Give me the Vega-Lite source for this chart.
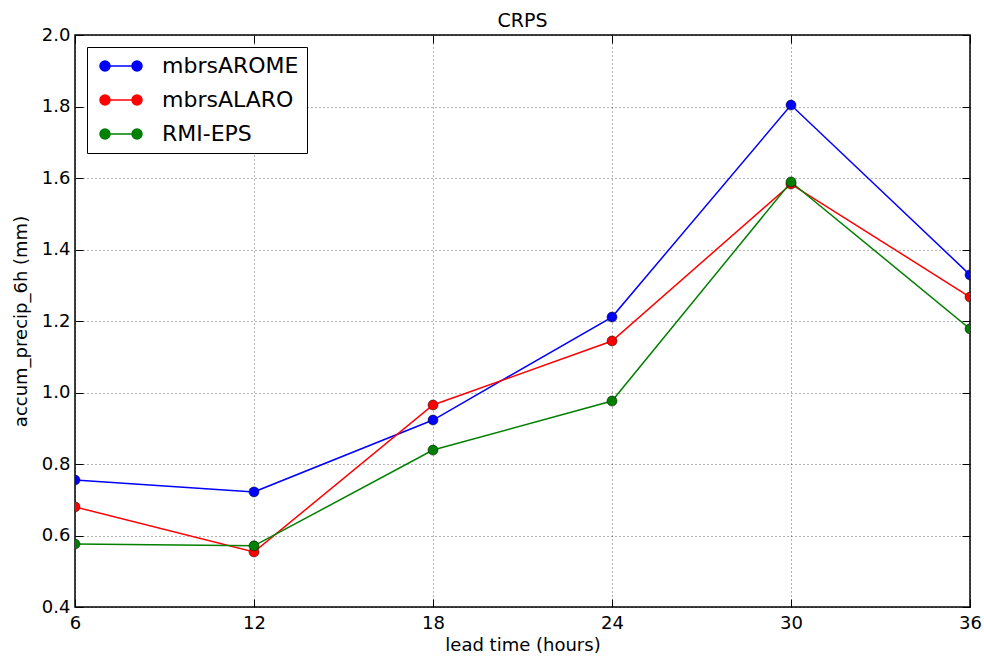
{
  "$schema": "https://vega.github.io/schema/vega-lite/v6.json",
  "autosize": {"type": "none"},
  "width": 895,
  "height": 572,
  "padding": {"left": 75, "top": 35, "right": 14, "bottom": 50},
  "background": "white",
  "title": {"text": "CRPS", "fontSize": 19, "fontWeight": "normal", "font": "DejaVu Sans", "color": "black", "offset": 6, "dy": 11},
  "config": {
    "font": "DejaVu Sans",
    "view": {"stroke": "black", "strokeWidth": 1.5},
    "axis": {"labelFont": "DejaVu Sans", "titleFont": "DejaVu Sans", "labelColor": "black", "titleColor": "black", "tickColor": "black", "domainColor": "black", "labelFontSize": 18, "titleFontSize": 18, "titleFontWeight": "normal", "tickSize": -8, "tickWidth": 1, "labelFlush": false}
  },
  "data": {"values": [
    {"lead": 6, "model": "mbrsAROME", "crps": 0.755},
    {"lead": 12, "model": "mbrsAROME", "crps": 0.722},
    {"lead": 18, "model": "mbrsAROME", "crps": 0.923},
    {"lead": 24, "model": "mbrsAROME", "crps": 1.211},
    {"lead": 30, "model": "mbrsAROME", "crps": 1.804},
    {"lead": 36, "model": "mbrsAROME", "crps": 1.329},
    {"lead": 6, "model": "mbrsALARO", "crps": 0.680},
    {"lead": 12, "model": "mbrsALARO", "crps": 0.554},
    {"lead": 18, "model": "mbrsALARO", "crps": 0.965},
    {"lead": 24, "model": "mbrsALARO", "crps": 1.144},
    {"lead": 30, "model": "mbrsALARO", "crps": 1.583},
    {"lead": 36, "model": "mbrsALARO", "crps": 1.267},
    {"lead": 6, "model": "RMI-EPS", "crps": 0.576},
    {"lead": 12, "model": "RMI-EPS", "crps": 0.571},
    {"lead": 18, "model": "RMI-EPS", "crps": 0.839},
    {"lead": 24, "model": "RMI-EPS", "crps": 0.976},
    {"lead": 30, "model": "RMI-EPS", "crps": 1.589},
    {"lead": 36, "model": "RMI-EPS", "crps": 1.178}
  ]},
  "layer": [
    {
      "mark": {"type": "line", "strokeWidth": 1.5, "clip": true},
      "encoding": {
        "x": {"field": "lead", "type": "quantitative", "scale": {"domain": [6, 36], "nice": false, "zero": false},
          "axis": {"values": [6, 12, 18, 24, 30, 36], "title": "lead time (hours)", "grid": true, "gridColor": "black", "gridDash": [1, 3], "gridOpacity": 0.6, "labelPadding": 15, "titlePadding": 4, "domain": false}},
        "y": {"field": "crps", "type": "quantitative", "scale": {"domain": [0.4, 2.0], "nice": false, "zero": false},
          "axis": {"values": [0.4, 0.6, 0.8, 1.0, 1.2, 1.4, 1.6, 1.8, 2.0], "format": ".1f", "title": "accum_precip_6h (mm)", "grid": true, "gridColor": "black", "gridDash": [1, 3], "gridOpacity": 0.6, "labelPadding": 13, "titlePadding": 11, "domain": false}},
        "color": {"field": "model", "type": "nominal",
          "scale": {"domain": ["mbrsAROME", "mbrsALARO", "RMI-EPS"], "range": ["#0000ff", "#ff0000", "#008000"]},
          "legend": {"title": null, "orient": "top-left", "offset": 12, "labelFontSize": 22, "labelFont": "DejaVu Sans", "labelColor": "black",
            "symbolType": "M-1.6,0L1.6,0M-1.1,0A0.5,0.5 0 1,1 -2.1,0A0.5,0.5 0 1,1 -1.1,0M2.1,0A0.5,0.5 0 1,1 1.1,0A0.5,0.5 0 1,1 2.1,0",
            "symbolSize": 400, "symbolStrokeWidth": 1.5, "rowPadding": 12, "symbolOffset": 15, "labelOffset": 30,
            "strokeColor": "black", "fillColor": "white", "padding": 8}}
      }
    },
    {
      "mark": {"type": "point", "filled": true, "size": 100, "stroke": "black", "strokeWidth": 0.5, "opacity": 1, "clip": true},
      "encoding": {
        "x": {"field": "lead", "type": "quantitative", "axis": {"orient": "top", "values": [6, 12, 18, 24, 30, 36], "labels": false, "title": null, "grid": false, "domain": false}},
        "y": {"field": "crps", "type": "quantitative", "axis": {"orient": "right", "values": [0.4, 0.6, 0.8, 1.0, 1.2, 1.4, 1.6, 1.8, 2.0], "labels": false, "title": null, "grid": false, "domain": false}},
        "color": {"field": "model", "type": "nominal"}
      }
    }
  ],
  "resolve": {"axis": {"x": "independent", "y": "independent"}}
}
